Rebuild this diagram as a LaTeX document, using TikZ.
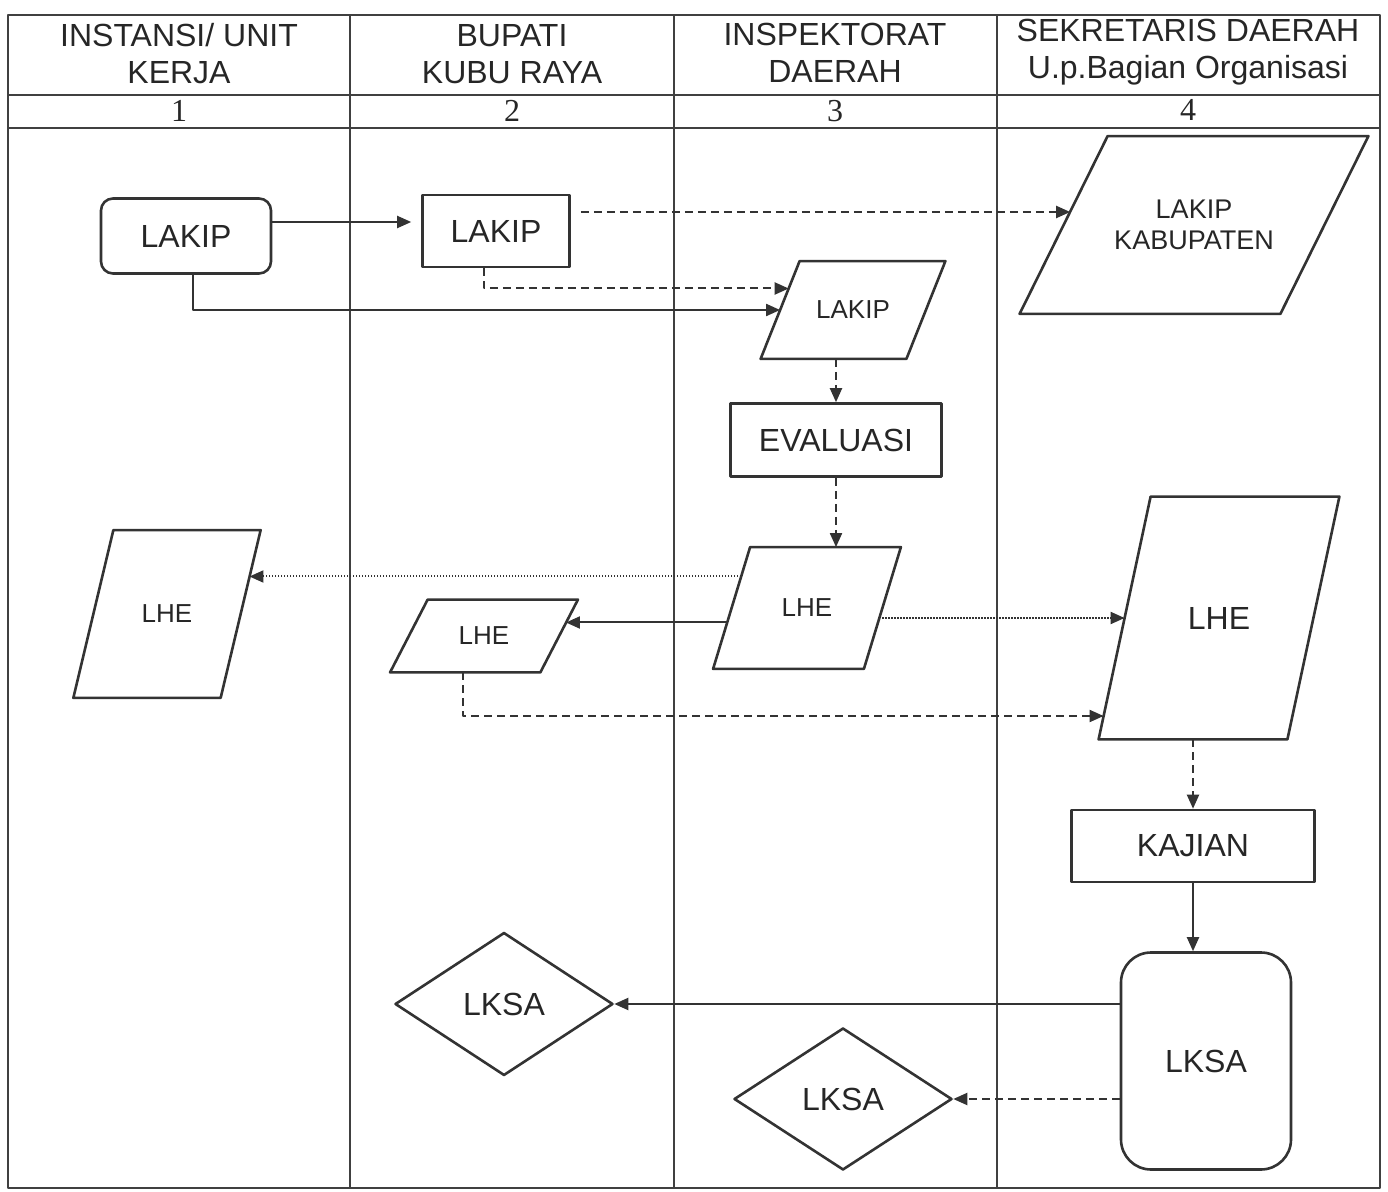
\documentclass[tikz,border=0pt]{standalone}
\usepackage{fontspec}
\setmainfont{Liberation Sans}
\newfontfamily\numfont{Liberation Serif}
\usetikzlibrary{arrows.meta,shapes.geometric}

\begin{document}
\begin{tikzpicture}[x=0.5pt, y=-0.5pt, line join=round,
    lane/.style={draw=black!75, line width=0.9pt},
    hdr/.style={font=\fontsize{16}{18.5}\selectfont, align=center, text=black!85},
    num/.style={font=\numfont\fontsize{16}{18}\selectfont, text=black!85},
    box/.style={draw=black!80, line width=1.3pt, text=black!85, inner sep=2pt},
    outline/.style={draw=black!80, line width=1.3pt},
    big/.style={font=\fontsize{16}{18}\selectfont},
    small/.style={font=\fontsize{13}{15.5}\selectfont},
    data/.style={rectangle, text=black!85, inner sep=2pt},
    decision/.style={box, diamond},
    flow/.style={draw=black!80, line width=1pt, -{Triangle[length=7pt,width=6pt]}},
    dashline/.style={dash pattern=on 4pt off 2.5pt},
    dotline/.style={dash pattern=on 0.8pt off 0.7pt}]

    \useasboundingbox (0,0) rectangle (1388,1192);

    % swimlanes
    \draw[lane] (8,15) rectangle (1380,1188);
    \foreach \x in {350,674,997}
        \draw[lane] (\x,15) -- (\x,1188);
    \draw[lane] (8,95) -- (1380,95);
    \draw[lane] (8,128) -- (1380,128);

    \node[hdr] (h1) at (179,54) {INSTANSI/ UNIT\\KERJA};
    \node[hdr] (h2) at (512,54) {BUPATI\\KUBU RAYA};
    \node[hdr] (h3) at (835,53) {INSPEKTORAT\\DAERAH};
    \node[hdr] (h4) at (1188,52) {SEKRETARIS DAERAH\\U.p.Bagian Organisasi};

    \node[num] (n1) at (179,111) {1};
    \node[num] (n2) at (512,111) {2};
    \node[num] (n3) at (835,111) {3};
    \node[num] (n4) at (1188,110) {4};

    % shapes
    \node[box, big, rounded corners=6pt, minimum width=85pt, minimum height=37.5pt] (lakipA) at (186,236) {LAKIP};
    \node[box, big, minimum width=73.5pt, minimum height=36pt] (lakipB) at (496,231) {LAKIP};
    \node[data, align=center, font=\fontsize{13.5}{15.5}\selectfont,
          minimum width=130pt, minimum height=88.5pt] (lakipKab) at (1194,225) {LAKIP\\KABUPATEN};
    \node[data, small, minimum width=72.5pt, minimum height=48.5pt] (lakipC) at (853,310) {LAKIP};
    \node[box, big, minimum width=105.5pt, minimum height=36.5pt] (evaluasi) at (836,440) {EVALUASI};

    \node[data, small, minimum width=73.25pt, minimum height=83.5pt] (lheA) at (167,614) {LHE};
    \node[data, small, minimum width=74.75pt, minimum height=36pt] (lheB) at (484,636) {LHE};
    \node[data, small, minimum width=75pt, minimum height=60.5pt] (lheC) at (807,608) {LHE};
    \node[data, big, minimum width=94pt, minimum height=121pt] (lheD) at (1219,618) {LHE};

    \node[box, big, minimum width=121.5pt, minimum height=36pt] (kajian) at (1193,846) {KAJIAN};
    \node[box, big, rounded corners=15pt, minimum width=85pt, minimum height=108.5pt] (lksaD) at (1206,1061) {LKSA};
    \node[decision, big, minimum width=109pt, minimum height=71.5pt] (lksaB) at (504,1004) {LKSA};
    \node[decision, big, minimum width=109pt, minimum height=71pt] (lksaC) at (843,1099) {LKSA};

    % slanted sides of the data shapes
    \foreach \n/\o in {lakipKab/22pt, lakipC/9.75pt, lheA/10pt, lheB/9.4pt, lheC/9.25pt, lheD/13pt}
        \draw[outline] ([xshift=-\o]\n.south west) -- ([xshift=-\o]\n.south east)
            -- ([xshift=\o]\n.north east) -- ([xshift=\o]\n.north west) -- cycle;

    % connectors
    \coordinate (a1) at ([yshift=7pt]lakipA.east);
    \coordinate (k1) at ([xshift=3.3pt,yshift=6.5pt]lakipKab.west);
    \coordinate (c1) at ([xshift=4.3pt,yshift=10.75pt]lakipC.west);
    \draw[flow, shorten >=5pt] (a1) -- (a1 -| lakipB.west);
    \draw[flow] ([xshift=3.5pt]lakipA.south) |- (lakipC.west);
    \draw[flow, dashline, shorten <=5pt] (k1 -| lakipB.east) -- (k1);
    \draw[flow, dashline] ([xshift=-6pt]lakipB.south) |- (c1);
    \draw[flow, dashline] (evaluasi.north |- lakipC.south) -- (evaluasi.north);
    \draw[flow, dashline] (evaluasi.south) -- (evaluasi.south |- lheC.north);

    \coordinate (c2) at ([xshift=4.8pt,yshift=15.75pt]lheC.west);
    \coordinate (e1) at ([xshift=4.4pt,yshift=18.25pt]lheA.east);
    \coordinate (c3) at ([xshift=-2.2pt,yshift=-7.25pt]lheC.west);
    \coordinate (b1) at ([xshift=3.4pt,yshift=6.5pt]lheB.east);
    \coordinate (d1) at ([xshift=-10.5pt,yshift=-49pt]lheD.west);
    \draw[flow, dotline] (c2) -- (c2 -| e1);
    \draw[flow] (c3) -- (c3 -| b1);
    \draw[flow, dotline] (lheC.east |- lheD.west) -- (lheD.west);
    \draw[flow, dashline] ([xshift=-10.5pt]lheB.south) |- (d1);

    \draw[flow, dashline] (kajian.north |- lheD.south) -- (kajian.north);
    \draw[flow] (kajian.south) -- (kajian.south |- lksaD.north);
    \draw[flow] (lksaB.east -| lksaD.west) -- (lksaB.east);
    \draw[flow, dashline] (lksaC.east -| lksaD.west) -- (lksaC.east);
\end{tikzpicture}
\end{document}
